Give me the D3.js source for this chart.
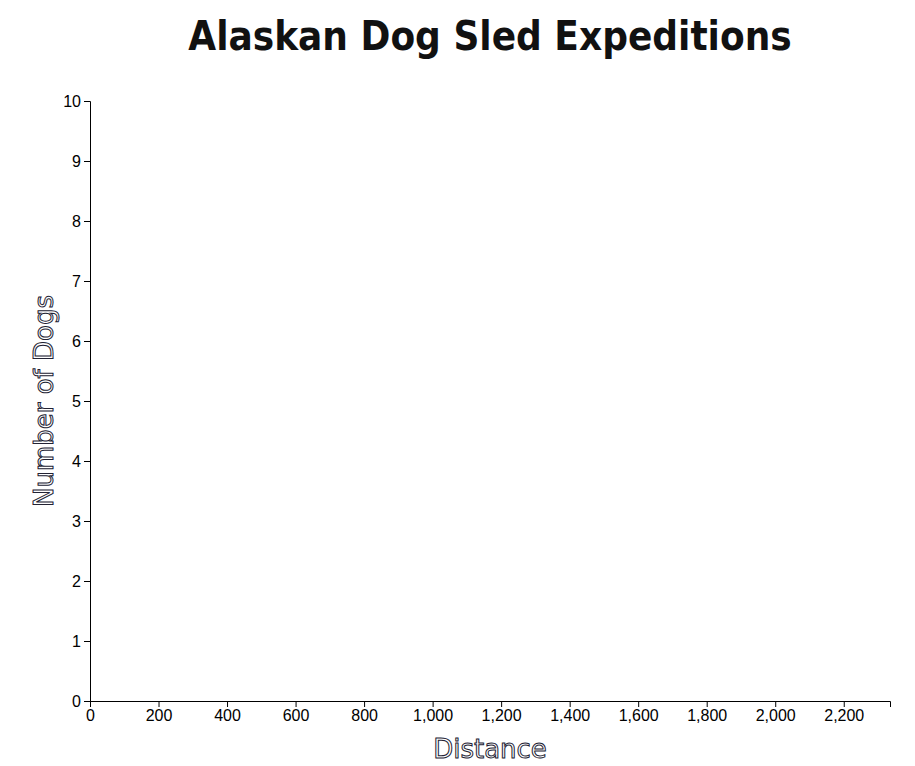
<!DOCTYPE html>
<html>
<head>
<meta charset="utf-8">
<script src="https://cdn.jsdelivr.net/npm/d3@7"></script>
<style>
  body { margin: 0; background: #fff; }
  .axis text { font-family: "Liberation Sans", Arial, sans-serif; font-size: 16px; fill: #000; }
  .axis path, .axis line { stroke: #000; }
  .title { font-family: "DejaVu Sans Condensed", "DejaVu Sans", sans-serif; font-weight: bold; font-size: 40px; fill: #111; }
  .label { font-family: "DejaVu Sans", sans-serif; font-size: 26px; fill: #fff; stroke: #223; stroke-width: 1px; }
</style>
</head>
<body>
<div id="chart"></div>
<script>
// Alaskan dog sled expeditions - distance vs number of dogs
var w = 915, h = 766;
var margin = {top: 101, left: 90, right: 25, bottom: 65};
var xDomain = [0, 2335];
var yDomain = [0, 10];
var xTicks = [0, 200, 400, 600, 800, 1000, 1200, 1400, 1600, 1800, 2000, 2200];
var yTicks = [0, 1, 2, 3, 4, 5, 6, 7, 8, 9, 10];
// no expeditions plotted in the picture
var distances = [];
var dogs = [];

var iw = w - margin.left - margin.right;
var ih = h - margin.top - margin.bottom;

var svg = d3.select("#chart")
    .append("svg")
    .attr("width", w)
    .attr("height", h);

var g = svg.append("g")
    .attr("transform", "translate(" + margin.left + "," + margin.top + ")");

var x = d3.scaleLinear().domain(xDomain).range([0, iw]);
var y = d3.scaleLinear().domain(yDomain).range([ih, 0]);

g.append("g")
    .attr("class", "axis")
    .attr("transform", "translate(0," + ih + ")")
    .call(d3.axisBottom(x).tickValues(xTicks).tickFormat(d3.format(",")));

g.append("g")
    .attr("class", "axis")
    .call(d3.axisLeft(y).tickValues(yTicks));

g.selectAll(".dot")
    .data(distances)
    .enter()
    .append("circle")
    .attr("class", "dot")
    .attr("cx", function(d) { return x(d); })
    .attr("cy", function(d, i) { return y(dogs[i]); })
    .attr("r", 5);

svg.append("text")
    .attr("class", "title")
    .attr("x", 490)
    .attr("y", 50)
    .attr("text-anchor", "middle")
    .text("Alaskan Dog Sled Expeditions");

svg.append("text")
    .attr("class", "label")
    .attr("x", margin.left + iw / 2)
    .attr("y", 758)
    .attr("text-anchor", "middle")
    .text("Distance");

svg.append("text")
    .attr("class", "label")
    .attr("transform", "translate(53," + (margin.top + ih / 2) + ") rotate(-90)")
    .attr("text-anchor", "middle")
    .text("Number of Dogs");
</script>
</body>
</html>
